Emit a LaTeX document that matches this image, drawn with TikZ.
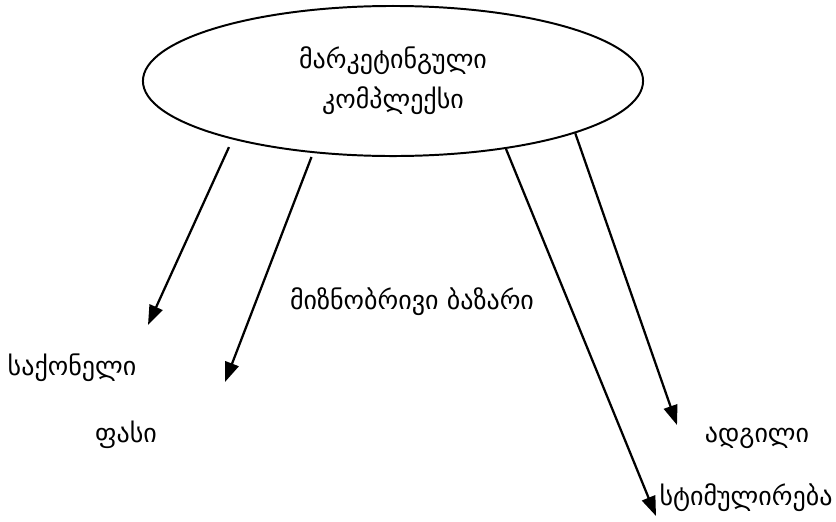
\documentclass[tikz,border=0pt]{standalone}
\usepackage{fontspec}
\setmainfont{DejaVu Sans}
\usetikzlibrary{shapes.geometric,arrows.meta}

\tikzset{
  lbl/.style={inner sep=0pt,font=\fontsize{18.5}{28}\selectfont},
  arr/.style={line width=1.6pt,-{Triangle[length=14pt,width=10pt]}}
}

\begin{document}
\begin{tikzpicture}[x=0.025cm,y=-0.025cm]
\useasboundingbox (0,0) rectangle (836,521);
\node[draw,ellipse,line width=1.4pt,minimum width=12.5cm,minimum height=3.75cm,
  inner sep=0pt,align=center,font=\fontsize{18.5}{28.5}\selectfont] (mk) at (393,81)
  {მარკეტინგული\\კომპლექსი};
\coordinate (e1) at (148,325);
\coordinate (e2) at (225,382);
\coordinate (e3) at (656,516);
\coordinate (e4) at (677,425);
\node[lbl] (saq) at (72,368) {საქონელი};
\node[lbl] (pasi) at (126,435) {ფასი};
\node[lbl] (mizn) at (412,302) {მიზნობრივი ბაზარი};
\node[lbl] (adg) at (757,438) {ადგილი};
\node[lbl] (stim) at (746,498) {სტიმულირება};
\draw[arr,shorten <=6pt] (mk.200.2) -- (e1);
\draw[arr,shorten <=3pt] (mk.222.4) -- (e2);
\draw[arr] (mk.329.9) -- (e3);
\draw[arr] (mk.344.6) -- (e4);
\end{tikzpicture}
\end{document}
